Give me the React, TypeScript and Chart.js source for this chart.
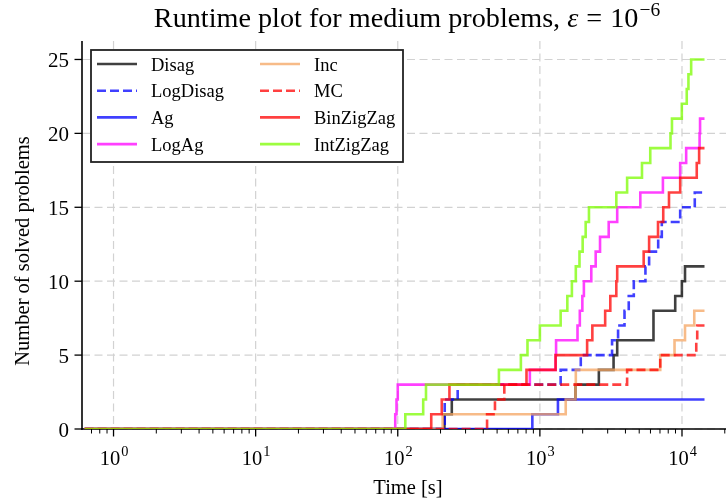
import React, { useEffect, useRef } from 'react';
import { Chart, registerables } from 'chart.js';

Chart.register(...registerables);

// Time limit per instance and axis limits
const TIME_LIMIT = 14400;
const X_MIN = 0.626;
const X_MAX = 20400;
const Y_MAX = 26.25;

const methodNames = ['Disag', 'LogDisag', 'Ag', 'LogAg', 'Inc', 'MC', 'BinZigZag', 'IntZigZag'];

// Solve times [s] and the cumulative number of solved problems after each time
const disagTimes = [213, 240, 1780, 2600, 3300, 3500, 6300, 8960, 9980, 10500];
const disagSolved = [1, 2, 3, 4, 5, 6, 8, 9, 10, 11];

const logDisagTimes = [214, 264, 1400, 1940, 3220, 3550, 3940, 4220, 4580, 5530, 5870, 6800, 7210, 9710, 12300];
const logDisagSolved = [2, 3, 4, 5, 6, 7, 8, 9, 10, 11, 12, 13, 14, 15, 16];

const agTimes = [885, 1340];
const agSolved = [1, 2];

const logAgTimes = [96, 98, 100, 850, 1290, 1300, 1840, 1910, 1990, 2040, 2300, 2470, 2650, 3050, 3500, 5090, 7340, 9710, 10700, 13300, 13400];
const logAgSolved = [1, 2, 3, 4, 5, 6, 7, 8, 9, 10, 11, 12, 13, 14, 15, 16, 17, 18, 19, 20, 21];

const incTimes = [207, 1520, 1780, 1790, 7030, 8860, 10500, 12200];
const incSolved = [1, 2, 3, 4, 5, 6, 7, 8];

const mcTimes = [425, 483, 562, 4110, 7030, 12600, 12800];
const mcSolved = [1, 2, 3, 4, 5, 6, 7];

const binZigZagTimes = [172, 204, 231, 805, 1290, 2150, 2340, 2880, 3130, 3450, 3500, 5375, 5870, 6780, 7380, 8100, 9710, 12700, 13200];
const binZigZagSolved = [1, 2, 3, 4, 5, 6, 7, 8, 9, 10, 11, 12, 13, 14, 15, 16, 17, 18, 19];

const intZigZagTimes = [113, 151, 158, 515, 735, 818, 1000, 1400, 1560, 1680, 1790, 1900, 2000, 2100, 2215, 3450, 4110, 5230, 5980, 8300, 8500, 9970, 10800, 11100, 11600];
const intZigZagSolved = [1, 2, 3, 4, 5, 6, 7, 8, 9, 10, 11, 12, 13, 14, 15, 16, 17, 18, 19, 20, 21, 22, 23, 24, 25];

const methodTimes = [disagTimes, logDisagTimes, agTimes, logAgTimes, incTimes, mcTimes, binZigZagTimes, intZigZagTimes];
const methodSolved = [disagSolved, logDisagSolved, agSolved, logAgSolved, incSolved, mcSolved, binZigZagSolved, intZigZagSolved];

// Line styles
const methodColors = [
  'rgba(0,0,0,0.75)',
  'rgba(0,0,255,0.75)',
  'rgba(0,0,255,0.75)',
  'rgba(255,0,255,0.75)',
  'rgba(244,164,96,0.75)',
  'rgba(255,0,0,0.75)',
  'rgba(255,0,0,0.75)',
  'rgba(124,252,0,0.75)',
];
const methodDashed = [false, true, false, false, false, true, false, false];
const DASH = [9, 4];
const LINE_W = 2.6;

// Axis ticks
const xDecades = [1, 10, 100, 1000, 10000];
const xDecadeExponents = ['0', '1', '2', '3', '4'];
const yTicks = [0, 5, 10, 15, 20, 25];

const SERIF = "'Liberation Serif', 'Times New Roman', serif";

function stepPoints(times: number[], solved: number[]) {
  const pts = [{ x: X_MIN, y: 0 }];
  times.forEach((t, i) => pts.push({ x: t, y: solved[i] }));
  pts.push({ x: TIME_LIMIT, y: solved[solved.length - 1] });
  return pts;
}

function seg(ctx: CanvasRenderingContext2D, x1: number, y1: number, x2: number, y2: number) {
  ctx.beginPath();
  ctx.moveTo(x1, y1);
  ctx.lineTo(x2, y2);
  ctx.stroke();
}

// "10" with a raised exponent, centred on cx
function drawPower(ctx: CanvasRenderingContext2D, cx: number, baseY: number, base: string, exp: string, size: number) {
  ctx.font = `${size}px ${SERIF}`;
  const wb = ctx.measureText(base).width;
  ctx.font = `${size * 0.7}px ${SERIF}`;
  const we = ctx.measureText(exp).width;
  const x0 = cx - (wb + we) / 2;
  ctx.textAlign = 'left';
  ctx.textBaseline = 'alphabetic';
  ctx.font = `${size}px ${SERIF}`;
  ctx.fillText(base, x0, baseY);
  ctx.font = `${size * 0.7}px ${SERIF}`;
  ctx.fillText(exp, x0 + wb + 1, baseY - size * 0.42);
}

const axesPlugin = {
  id: 'runtimeAxes',
  beforeDatasetsDraw(chart: any) {
    const { ctx, chartArea: a, scales } = chart;
    const x = scales.x;
    const y = scales.y;
    ctx.save();
    // dashed grid
    ctx.strokeStyle = '#d2d2d2';
    ctx.lineWidth = 1.2;
    ctx.setLineDash([8, 4.5]);
    for (const v of xDecades) {
      const px = x.getPixelForValue(v);
      seg(ctx, px, a.top, px, a.bottom);
    }
    for (const v of yTicks) {
      const py = y.getPixelForValue(v);
      seg(ctx, a.left, py, a.right, py);
    }
    ctx.setLineDash([]);
    // spines
    ctx.strokeStyle = '#000';
    ctx.lineWidth = 1.6;
    seg(ctx, a.left, a.top, a.left, a.bottom + 0.8);
    seg(ctx, a.left - 0.8, a.bottom, a.right, a.bottom);
    // major / minor ticks
    ctx.lineWidth = 1.3;
    for (const v of yTicks) {
      const py = y.getPixelForValue(v);
      seg(ctx, a.left - 7.5, py, a.left, py);
    }
    for (const v of xDecades) {
      const px = x.getPixelForValue(v);
      seg(ctx, px, a.bottom, px, a.bottom + 7.5);
    }
    ctx.lineWidth = 1.0;
    for (let k = -1; k <= 4; k++) {
      for (let m = 2; m <= 9; m++) {
        const v = m * Math.pow(10, k);
        if (v <= X_MIN || v >= X_MAX) continue;
        const px = x.getPixelForValue(v);
        seg(ctx, px, a.bottom, px, a.bottom + 4.5);
      }
    }
    ctx.restore();
  },
  afterDatasetsDraw(chart: any) {
    const { ctx, chartArea: a, scales } = chart;
    const x = scales.x;
    const y = scales.y;
    ctx.save();
    ctx.fillStyle = '#000';

    // y tick labels
    ctx.font = `21px ${SERIF}`;
    ctx.textAlign = 'right';
    ctx.textBaseline = 'alphabetic';
    for (const v of yTicks) {
      ctx.fillText(String(v), a.left - 13, y.getPixelForValue(v) + 7.5);
    }
    // x tick labels
    xDecades.forEach((v, i) => {
      drawPower(ctx, x.getPixelForValue(v), a.bottom + 36, '10', xDecadeExponents[i], 20.5);
    });

    // axis titles
    ctx.font = `20.5px ${SERIF}`;
    ctx.textAlign = 'center';
    ctx.fillText('Time [s]', 408, 494);
    ctx.save();
    ctx.translate(29, 251);
    ctx.rotate(-Math.PI / 2);
    ctx.fillText('Number of solved problems', 0, 0);
    ctx.restore();

    // title with the tolerance written as math
    const tSize = 28.2;
    const supSize = 19.5;
    const part1 = 'Runtime plot for medium problems, ';
    const eps = 'ε';
    const eq = '=';
    const base = '10';
    const sup = '−6';
    const gapEq = 8;
    ctx.font = `${tSize}px ${SERIF}`;
    const w1 = ctx.measureText(part1).width;
    const wEq = ctx.measureText(eq).width;
    const wBase = ctx.measureText(base).width;
    ctx.font = `italic ${tSize}px ${SERIF}`;
    const wEps = ctx.measureText(eps).width;
    ctx.font = `${supSize}px ${SERIF}`;
    const wSup = ctx.measureText(sup).width;
    const total = w1 + wEps + gapEq + wEq + gapEq + wBase + 1 + wSup;
    let tx = 407 - total / 2;
    const ty = 27;
    ctx.textAlign = 'left';
    ctx.font = `${tSize}px ${SERIF}`;
    ctx.fillText(part1, tx, ty);
    tx += w1;
    ctx.font = `italic ${tSize}px ${SERIF}`;
    ctx.fillText(eps, tx, ty);
    tx += wEps + gapEq;
    ctx.font = `${tSize}px ${SERIF}`;
    ctx.fillText(eq, tx, ty);
    tx += wEq + gapEq;
    ctx.fillText(base, tx, ty);
    tx += wBase + 1;
    ctx.font = `${supSize}px ${SERIF}`;
    ctx.fillText(sup, tx, ty - 11.5);

    // legend (two columns, filled column by column)
    const bx = 91, by = 50, bw = 312, bh = 112;
    ctx.fillStyle = '#fff';
    ctx.fillRect(bx, by, bw, bh);
    ctx.strokeStyle = '#222';
    ctx.lineWidth = 1.8;
    ctx.strokeRect(bx, by, bw, bh);
    const ds = chart.data.datasets;
    ctx.font = `18.5px ${SERIF}`;
    ctx.textAlign = 'left';
    for (let i = 0; i < ds.length; i++) {
      const col = Math.floor(i / 4);
      const row = i % 4;
      const lx = col === 0 ? 97 : 260;
      const cy = 64 + row * 26.7;
      ctx.strokeStyle = ds[i].borderColor;
      ctx.lineWidth = LINE_W;
      ctx.setLineDash(ds[i].borderDash || []);
      seg(ctx, lx, cy, lx + 40, cy);
      ctx.setLineDash([]);
      ctx.fillStyle = '#000';
      ctx.fillText(ds[i].label, lx + 54, cy + 6.5);
    }
    ctx.restore();
  },
};

export default function App() {
  const canvasRef = useRef<HTMLCanvasElement | null>(null);

  useEffect(() => {
    if (!canvasRef.current) return;
    const datasets = methodNames.map((name, i) => ({
      label: name,
      data: stepPoints(methodTimes[i], methodSolved[i]),
      borderColor: methodColors[i],
      backgroundColor: methodColors[i],
      borderWidth: LINE_W,
      borderDash: methodDashed[i] ? DASH : [],
      borderCapStyle: 'butt' as const,
      borderJoinStyle: 'miter' as const,
      stepped: 'before' as const,
      pointRadius: 0,
      fill: false,
      order: methodNames.length - i,
    }));
    const chart = new Chart(canvasRef.current, {
      type: 'line',
      data: { datasets },
      options: {
        responsive: false,
        animation: false,
        events: [],
        layout: { padding: { left: 82, top: 41, right: 0, bottom: 75 } },
        scales: {
          x: { type: 'logarithmic', min: X_MIN, max: X_MAX, display: false },
          y: { type: 'linear', min: 0, max: Y_MAX, display: false },
        },
        plugins: {
          legend: { display: false },
          tooltip: { enabled: false },
          title: { display: false },
        },
      },
      plugins: [axesPlugin],
    });
    return () => chart.destroy();
  }, []);

  return (
    <div style={{ position: 'absolute', left: 0, top: 0, width: 726, height: 504, background: '#fff' }}>
      <canvas ref={canvasRef} width={726} height={504} />
    </div>
  );
}
